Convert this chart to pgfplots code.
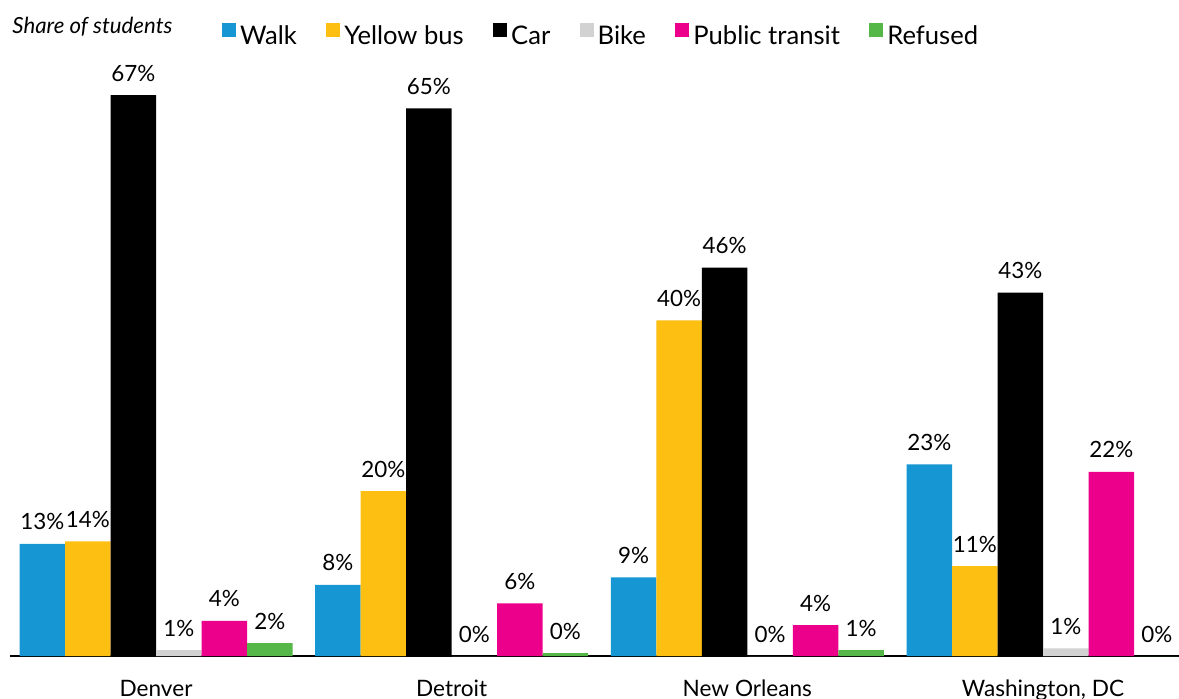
\documentclass[border=0pt]{standalone}
\usepackage{pgfplots}
\pgfplotsset{compat=1.18}
\usepackage{pgfplotstable}
\usepackage{fontspec}
\setmainfont{Lato}
\definecolor{cwalk}{HTML}{1696D2}
\definecolor{cbus}{HTML}{FDBF11}
\definecolor{ccar}{HTML}{000000}
\definecolor{cbike}{HTML}{D2D2D2}
\definecolor{ctransit}{HTML}{EC008B}
\definecolor{crefused}{HTML}{55B748}
\pgfplotstableread{
x y lab
0 13.4 13
1 8.5 8
2 9.4 9
3 22.9 23
}\walk
\pgfplotstableread{
x y lab
0 13.7 14
1 19.7 20
2 40.1 40
3 10.75 11
}\bus
\pgfplotstableread{
x y lab
0 67.0 67
1 65.4 65
2 46.4 46
3 43.4 43
}\car
\pgfplotstableread{
x y lab
0 0.7 1
1 0 0
2 0 0
3 0.9 1
}\bike
\pgfplotstableread{
x y lab
0 4.2 4
1 6.3 6
2 3.7 4
3 22.0 22
}\transit
\pgfplotstableread{
x y lab
0 1.55 2
1 0.35 0
2 0.7 1
3 0.0 0
}\refused
\begin{document}
\begin{tikzpicture}
\begin{axis}[
  at={(0pt,0pt)}, anchor=south west,
  scale only axis,
  width=584.5pt, height=326.5pt,
  xmin=-0.494, xmax=3.46,
  ymin=0, ymax=78,
  ybar=0pt, bar width=22.75pt,
  axis y line=none,
  axis x line*=bottom,
  axis line style={black, line width=1.3pt, -},
  xtick={0,1,2,3},
  xticklabels={Denver, Detroit, New Orleans, {Washington, DC}},
  major tick length=0pt,
  xticklabel style={anchor=base, yshift=-20pt, font=\fontsize{11.3}{13}\selectfont},
  point meta=explicit symbolic,
  nodes near coords={\pgfplotspointmeta\%},
  every node near coord/.append style={anchor=base, inner sep=0pt, yshift=7pt, black, font=\fontsize{11.2}{13}\selectfont},
  legend columns=-1,
  legend style={draw=none, fill=none, inner sep=0pt,
    at={(axis description cs:0.1811,0.948)}, anchor=west,
    font=\fontsize{12.8}{14}\selectfont,
    /tikz/every even column/.append style={column sep=12.7pt},
    nodes={inner xsep=2pt}},
  legend image code/.code={\fill[#1] (0pt,0pt) rectangle (7pt,7pt);},
  clip=false,
]
\addplot[fill=cwalk, draw=none] table[x=x, y=y, meta=lab] {\walk};
\addplot[fill=cbus, draw=none] table[x=x, y=y, meta=lab] {\bus};
\addplot[fill=ccar, draw=none] table[x=x, y=y, meta=lab] {\car};
\addplot[fill=cbike, draw=none] table[x=x, y=y, meta=lab] {\bike};
\addplot[fill=ctransit, draw=none] table[x=x, y=y, meta=lab] {\transit};
\addplot[fill=crefused, draw=none] table[x=x, y=y, meta=lab] {\refused};
\legend{Walk, Yellow bus, Car, Bike, Public transit, Refused}
\end{axis}
\node[anchor=west, inner sep=0pt, font=\fontsize{11.1}{13}\selectfont\itshape] at (1pt,314.5pt) {Share of students};
\pgfresetboundingbox
\path[use as bounding box] (-5pt,-21pt) rectangle (584.5pt,328pt);
\end{tikzpicture}
\end{document}
